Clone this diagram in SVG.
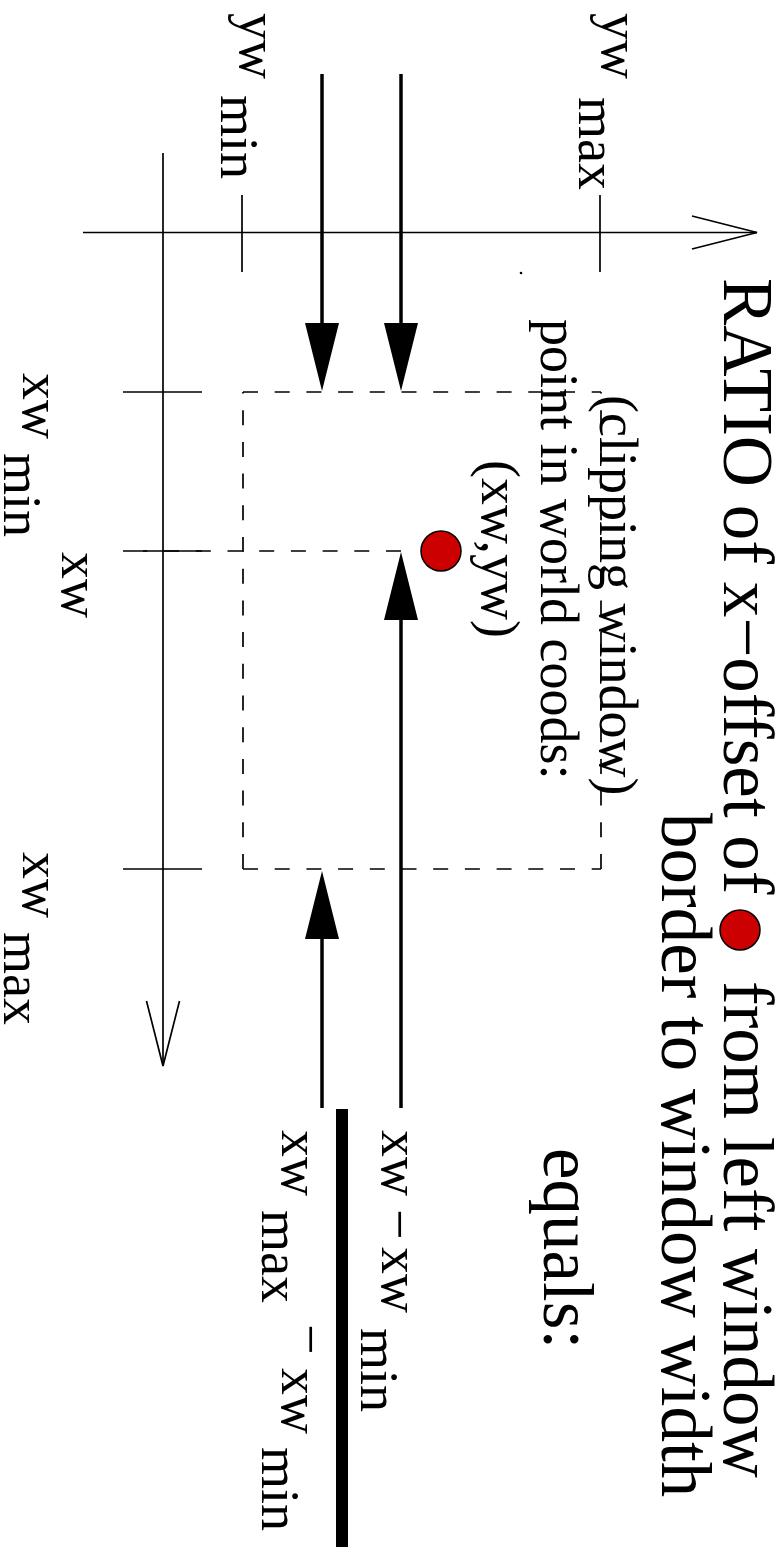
<svg xmlns="http://www.w3.org/2000/svg" width="780" height="1547" viewBox="0 0 780 1547">
<style>
  text { font-family: "Liberation Serif", "Times New Roman", serif; fill: #000; }
  .big { font-size: 71px; }
  .lab { font-size: 54px; }
  .thin { stroke: #000; stroke-width: 1.7; fill: none; }
  .dash { stroke: #000; stroke-width: 1.7; fill: none; stroke-dasharray: 15 16.7; }
  .thick { stroke: #000; stroke-width: 3.5; fill: none; }
  .reddot { fill: #cc0000; stroke: #000; stroke-width: 1.5; }
</style>
<defs>
  <marker id="headFilled" markerUnits="userSpaceOnUse" viewBox="0 0 68 34" markerWidth="68" markerHeight="34" refX="0" refY="17" orient="auto" overflow="visible">
    <path d="M0,0 L68,17 L0,34 Z" fill="#000"/>
  </marker>
  <marker id="headOpen" markerUnits="userSpaceOnUse" viewBox="-2 -2 70 37" markerWidth="70" markerHeight="37" refX="65" refY="16.5" orient="auto" overflow="visible">
    <path d="M0,0 L65,16.5 L0,33" fill="none" stroke="#000" stroke-width="1.7"/>
  </marker>
</defs>
<rect width="780" height="1547" fill="#fff"/>

<g id="axes">
  <line class="thin" x1="83" y1="232.5" x2="757" y2="232.5" marker-end="url(#headOpen)"/>
  <line class="thin" x1="163" y1="153" x2="163" y2="1066" marker-end="url(#headOpen)"/>
  <line class="thin" x1="242" y1="195" x2="242" y2="272"/>
  <line class="thin" x1="600" y1="195" x2="600" y2="272"/>
  <line class="thin" x1="123" y1="392" x2="202" y2="392"/>
  <line class="thin" x1="123" y1="551" x2="202" y2="551"/>
  <line class="thin" x1="123" y1="869" x2="202" y2="869"/>
  <circle cx="521" cy="273" r="1.3" fill="#000"/>
</g>

<g id="clipping-window">
  <line class="dash" x1="243" y1="392" x2="601" y2="392"/>
  <line class="dash" x1="601" y1="869" x2="601" y2="392"/>
  <line class="dash" x1="243" y1="869" x2="601" y2="869"/>
  <line class="dash" x1="243" y1="869" x2="243" y2="392"/>
  <line class="dash" x1="401" y1="551" x2="143" y2="551"/>
</g>

<g id="point">
  <circle class="reddot" cx="441" cy="551" r="20"/>
</g>

<g id="connectors">
  <line class="thick" x1="322" y1="74" x2="322" y2="323" marker-end="url(#headFilled)"/>
  <line class="thick" x1="401" y1="74" x2="401" y2="323" marker-end="url(#headFilled)"/>
  <line class="thick" x1="322" y1="1108" x2="322" y2="939" marker-end="url(#headFilled)"/>
  <line class="thick" x1="401" y1="1108" x2="401" y2="620" marker-end="url(#headFilled)"/>
</g>

<g id="axis-labels" class="lab">
  <text class="lab" transform="translate(240,13) rotate(90)">yw</text>
  <text class="lab" transform="translate(221,95) rotate(90)">min</text>
  <text class="lab" transform="translate(602,13) rotate(90)">yw</text>
  <text class="lab" transform="translate(579,97) rotate(90)">max</text>
  <text class="lab" transform="translate(23,373) rotate(90)">xw</text>
  <text class="lab" transform="translate(4,453) rotate(90)">min</text>
  <text class="lab" transform="translate(62,552) rotate(90)">xw</text>
  <text class="lab" transform="translate(23,852) rotate(90)">xw</text>
  <text class="lab" transform="translate(4,932) rotate(90)">max</text>
</g>

<g id="window-text">
  <text class="lab" transform="translate(600,395) rotate(90)">(clipping window)</text>
  <text class="lab" transform="translate(541,319) rotate(90)">point in world coods:</text>
  <text class="lab" transform="translate(482,460) rotate(90)">(xw,yw)</text>
</g>

<g id="title">
  <text class="big" transform="translate(724,278) rotate(90)">RATIO of x−offset of</text>
  <circle class="reddot" cx="740" cy="930" r="20"/>
  <text class="big" transform="translate(724,981) rotate(90)">from left window</text>
  <text class="big" transform="translate(662,813) rotate(90)">border to window width</text>
  <text class="big" transform="translate(544,1148) rotate(90)">equals:</text>
</g>

<g id="fraction">
  <text class="lab" transform="translate(382,1130) rotate(90)">xw</text>
  <text class="lab" transform="translate(382,1209) rotate(90)">−</text>
  <text class="lab" transform="translate(382,1247) rotate(90)">xw</text>
  <text class="lab" transform="translate(361,1328) rotate(90)">min</text>
  <rect x="336" y="1109" width="12" height="438" fill="#000"/>
  <text class="lab" transform="translate(282,1130) rotate(90)">xw</text>
  <text class="lab" transform="translate(262,1210) rotate(90)">max</text>
  <text class="lab" transform="translate(293,1324) rotate(90)">−</text>
  <text class="lab" transform="translate(282,1368) rotate(90)">xw</text>
  <text class="lab" transform="translate(262,1447) rotate(90)">min</text>
</g>
</svg>
